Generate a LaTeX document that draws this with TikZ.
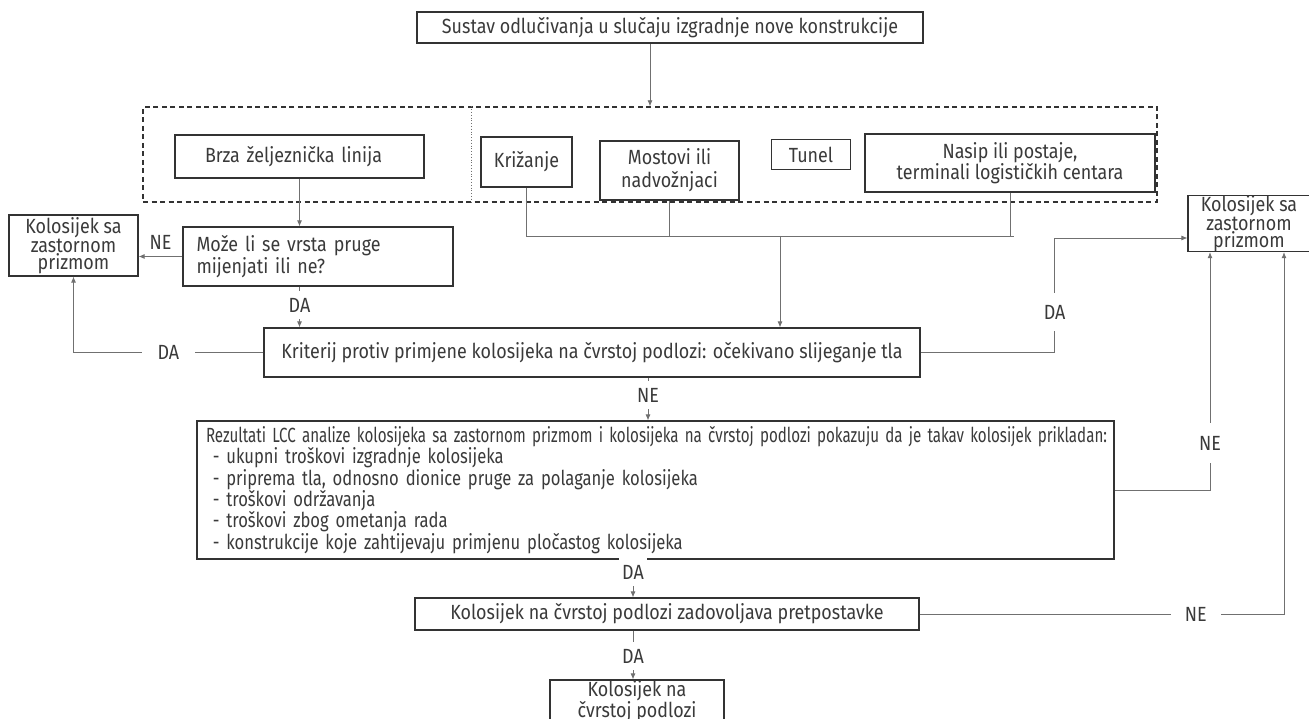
\documentclass[tikz,border=0pt]{standalone}
\usepackage{fontspec}
\usepackage{graphicx}
\setmainfont{Fira Sans}[FakeStretch=0.873]
\newfontfamily\lccfont{Fira Sans}[FakeStretch=0.81]
\usetikzlibrary{arrows.meta}
\definecolor{txt}{HTML}{3A3A3A}
\definecolor{bord}{HTML}{333333}
\definecolor{conn}{HTML}{707070}
\begin{document}
\begin{tikzpicture}[x=1pt,y=-1pt,
  every node/.style={text=txt, font=\fontsize{20.5}{20.5}\selectfont},
  box/.style={draw=bord, line width=1.2pt, inner sep=0pt, align=center},
  conn/.style={draw=conn, line width=0.8pt},
  arr/.style={conn, -{Latex[length=6pt,width=5pt]}},
  lbl/.style={fill=white, inner xsep=3pt, inner ysep=7pt}]
\useasboundingbox (0,0) rectangle (1309,719);
\fill[white] (0,0) rectangle (1309,719);

% group of start cases
\node[draw=bord, dashed, dash pattern=on 5pt off 3.5pt, line width=1.3pt, minimum width=1014, minimum height=95, inner sep=0pt] (grp) at (650,154.5) {};
\coordinate (dv) at (471,0);
\draw[draw=conn, line width=0.8pt, dotted] (grp.north -| dv) -- (grp.south -| dv);

\node[box, line width=2.4pt, minimum width=506, minimum height=31] (title) at (670,27.5) {Sustav odlučivanja u slučaju izgradnje nove konstrukcije};

\node[box, minimum width=249, minimum height=43, text width=189, align=left] (brza) at (299.5,156.5) {Brza željeznička linija};
\node[box, minimum width=91, minimum height=50] (kriz) at (526.5,162) {Križanje};
\node[box, minimum width=139, minimum height=59, font=\fontsize{20.5}{23}\selectfont] (most) at (669.5,170.5) {Mostovi ili\\nadvožnjaci};
\node[box, minimum width=79, minimum height=30] (tunel) at (811,154.5) {Tunel};
\node[box, minimum width=290, minimum height=58, font=\fontsize{20.5}{20}\selectfont] (nasip) at (1010,163) {Nasip ili postaje,\\terminali logističkih centara};

\node[box, minimum width=129, minimum height=61, font=\fontsize{20.5}{17}\selectfont] (kolL) at (73.5,245.5) {Kolosijek sa\\zastornom\\prizmom};
\node[box, minimum width=270, minimum height=59, text width=243, align=left, font=\fontsize{20.5}{22}\selectfont] (moze) at (318,256.5) {Može li se vrsta pruge\\mijenjati ili ne?};

\node[box, minimum width=656, minimum height=49] (krit) at (592,352.5) {Kriterij protiv primjene kolosijeka na čvrstoj podlozi: očekivano slijeganje tla};

\node[box, minimum width=122, minimum height=55, font=\fontsize{20.5}{17}\selectfont] (kolR) at (1249,223.5) {Kolosijek sa\\zastornom\\prizmom};

\node[box, minimum width=917, minimum height=138, text width=899, align=left, font=\lccfont\fontsize{20.5}{20.2}\selectfont] (lcc) at (655.5,490) {\resizebox{901pt}{\height}{Rezultati LCC analize kolosijeka sa zastornom prizmom i kolosijeka na čvrstoj podlozi pokazuju da je takav kolosijek prikladan:}\\
\ - ukupni troškovi izgradnje kolosijeka\\
\ - priprema tla, odnosno dionice pruge za polaganje kolosijeka\\
\ - troškovi održavanja\\
\ - troškovi zbog ometanja rada\\
\ - konstrukcije koje zahtijevaju primjenu pločastog kolosijeka};

\node[box, minimum width=504, minimum height=32] (zad) at (667,614) {Kolosijek na čvrstoj podlozi zadovoljava pretpostavke};

\node[box, minimum width=174, minimum height=42, font=\fontsize{20.5}{19}\selectfont] (fin) at (637,701) {Kolosijek na\\čvrstoj podlozi};

% connectors
\draw[arr] (title.south -| grp.north) -- (grp.north);

\coordinate (bus) at (780,236);
\draw[conn] (kriz.south) -- (kriz.south |- bus) -- ([xshift=4pt]nasip.south |- bus);
\draw[conn] (most.south) -- (most.south |- bus);
\draw[conn] (nasip.south) -- (nasip.south |- bus);
\draw[arr] (bus) -- (bus |- krit.north);

\draw[arr] (brza.south) -- (brza.south |- moze.north);
\draw[arr] (moze.west) -- (moze.west -| kolL.east) node[midway, yshift=14pt] {NE};
\draw[arr] (brza.south |- moze.south) -- (brza.south |- krit.north) node[lbl, pos=0.45] {DA};

\draw[arr] (krit.west) -| (kolL.south) node[lbl, pos=0.25, inner xsep=16pt] {DA};
\draw[arr] (krit.east) -- ++(134,0) |- ([yshift=-14.5pt]kolR.west) node[lbl, pos=0.177, inner ysep=12pt] {DA};

\draw[arr] (lcc.east) -| ([xshift=-39pt]kolR.south) node[lbl, pos=0.598, inner ysep=13pt] {NE};
\draw[arr] (zad.east) -| ([xshift=35pt]kolR.south) node[lbl, pos=0.379, inner xsep=14pt] {NE};

\coordinate (c2) at (648,0);
\draw[arr] (krit.south -| c2) -- (lcc.north -| c2) node[lbl, pos=0.41] {NE};
\coordinate (c3) at (633,0);
\draw[arr] (lcc.south -| c3) -- (zad.north -| c3) node[lbl, pos=0.33] {DA};
\draw[arr] (zad.south -| c3) -- (fin.north -| c3) node[lbl, pos=0.52] {DA};
\end{tikzpicture}
\end{document}
